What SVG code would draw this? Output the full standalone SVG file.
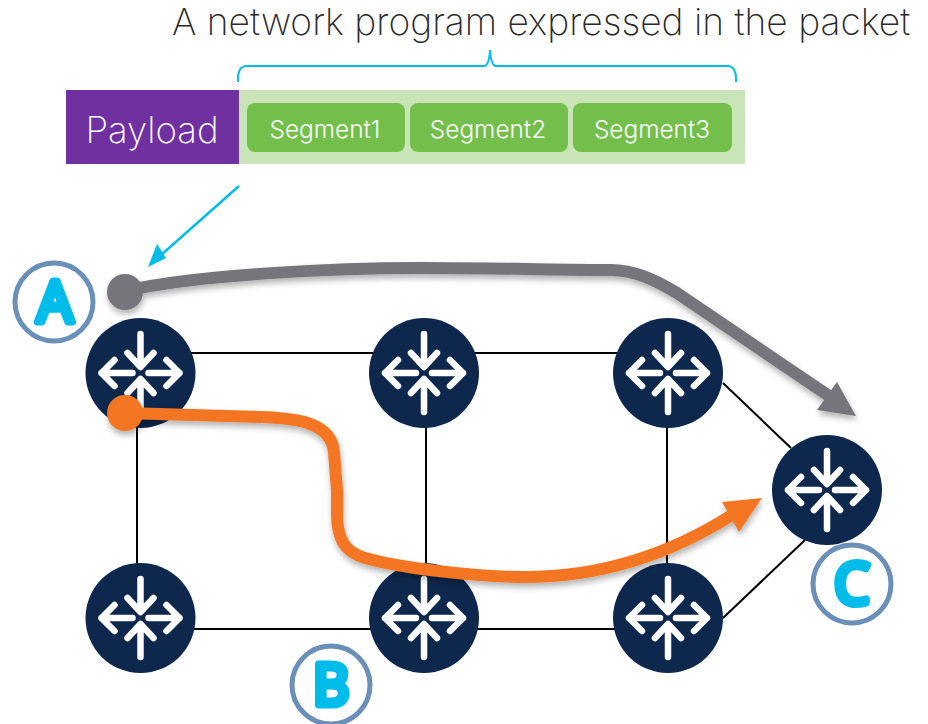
<svg xmlns="http://www.w3.org/2000/svg" width="928" height="724" viewBox="0 0 928 724">
<style>
text{font-family:"Inter","Liberation Sans",sans-serif}
.title{font-size:37.150px;font-weight:200;fill:#2b2b2b}
.seg{font-size:24.400px;font-weight:300;fill:#fff;text-anchor:middle}
.pay{font-size:36.600px;font-weight:200;fill:#fff;text-anchor:middle}
.link{stroke:#000;stroke-width:2;fill:none}
.halo{fill:#fff;stroke:#6a8fb8;stroke-width:5}
.let{font-family:"Open Sans","DejaVu Sans",sans-serif;font-size:56px;font-weight:400;fill:#00bceb;stroke:#00bceb;stroke-width:7;stroke-linejoin:round;text-anchor:middle}
.cy{stroke:#00bceb;fill:none}
.r{fill:#0d274d}
.w{stroke:#fff;stroke-width:6.500;stroke-linecap:round;stroke-linejoin:round;fill:none}
</style>
<defs>
<filter id="sh" x="-10%" y="-10%" width="120%" height="130%"><feDropShadow dx="1" dy="4" stdDeviation="3" flood-color="#000" flood-opacity=".3"/></filter>
<g id="router"><circle class="r" r="55"/><path class="w" d="M0-39V-8M-13-20L0-6L13-20M0 39V8M-13 20L0 6L13 20M-8 0H-39M-26-13L-39 0L-26 13M8 0H39M26-13L39 0L26 13"/></g>
</defs>
<text class="title" x="172" y="35">A network program expressed in the packet</text>
<path id="brace" class="cy" stroke-width="2" d="M238 82Q237 66 247 66H484Q489 66 490 50Q491 66 496 66H727Q737 66 736 82"/>
<g id="payload"><rect x="66" y="90" width="173" height="74" fill="#70309f"/><text class="pay" x="152" y="143">Payload</text></g>
<rect x="239" y="90" width="506" height="74" fill="#c9e5b7"/>
<g id="segment1"><rect x="247" y="103" width="158" height="49" rx="8" fill="#74bf4b"/><text class="seg" x="325" y="138">Segment1</text></g>
<g id="segment2"><rect x="410" y="103" width="158" height="49" rx="8" fill="#74bf4b"/><text class="seg" x="488" y="138">Segment2</text></g>
<g id="segment3"><rect x="573" y="103" width="159" height="49" rx="8" fill="#74bf4b"/><text class="seg" x="652" y="138">Segment3</text></g>
<g id="connectors">
<path class="link" d="M140 353H668M140 629H668M137 373V618M426 373V618M667 373V618M723 383L791 448M723 618L805 540"/>
</g>
<g id="node1"><use href="#router" x="140.500" y="373"/></g>
<g id="node2"><use href="#router" x="424" y="373"/></g>
<g id="node3"><use href="#router" x="668" y="373"/></g>
<g id="node4"><use href="#router" x="827" y="490"/></g>
<g id="node5"><use href="#router" x="140.500" y="618"/></g>
<g id="node6"><use href="#router" x="424" y="618"/></g>
<g id="node7"><use href="#router" x="668" y="618"/></g>
<g id="pointer"><path class="cy" stroke-width="2.500" d="M239 186L160 256"/><path d="M148 267L157 244L166 258Z" fill="#00bceb"/></g>
<g id="path-gray" filter="url(#sh)"><circle cx="125" cy="292" r="18" fill="#76757c"/><path d="M125 291C200 274 340 268 420 268C500 268 560 270 610 270C635 270 655 280 677 293L829 396" fill="none" stroke="#76757c" stroke-width="12"/><path d="M856 416L817 410L837 382Z" fill="#76757c"/></g>
<g id="path-orange" filter="url(#sh)"><circle cx="125" cy="413" r="18" fill="#f47521"/><path d="M125 413L260 417C290 418 332 420 334 453L337 490L337 513C337 540 345 552 365 558C400 568 470 576 520 577C600 578 670 555 735 513" fill="none" stroke="#f47521" stroke-width="12"/><path d="M762 498L722 502L739 532Z" fill="#f47521"/></g>
<g id="label-a"><circle class="halo" cx="54" cy="302" r="39"/><text class="let" x="55" y="322">A</text></g>
<g id="label-b"><circle class="halo" cx="331" cy="685" r="39"/><text class="let" x="331" y="705">B</text></g>
<g id="label-c"><circle class="halo" cx="852" cy="584" r="39"/><text class="let" x="852" y="604">C</text></g>
</svg>
